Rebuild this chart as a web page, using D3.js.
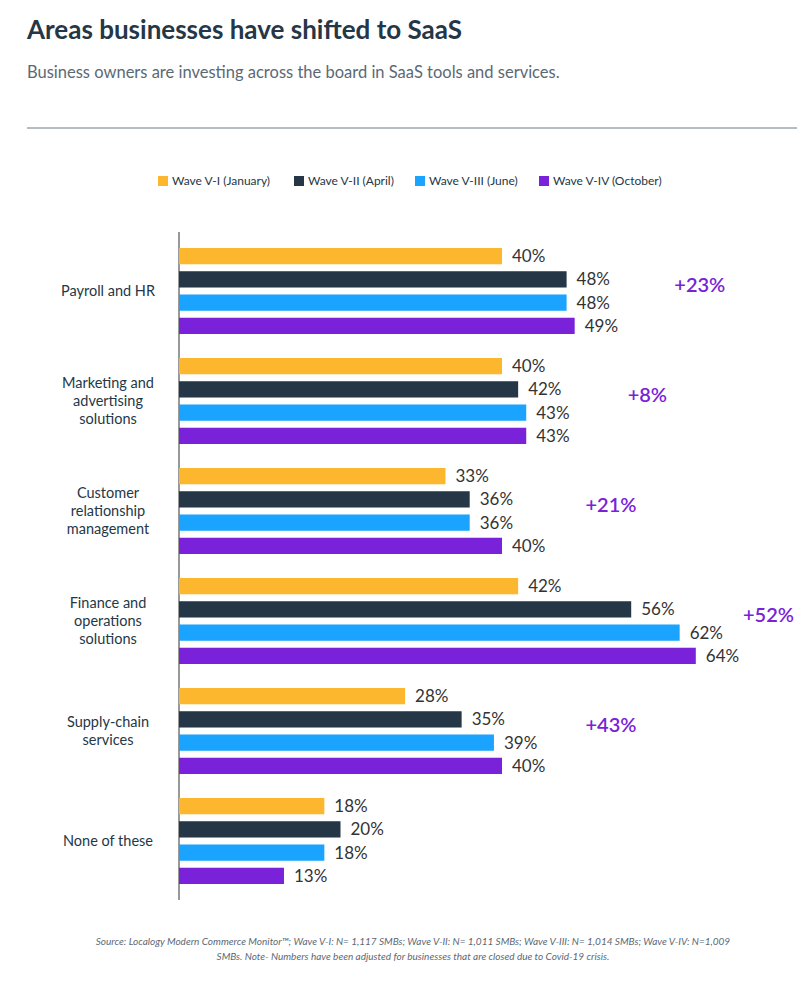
<!DOCTYPE html>
<html><head><meta charset="utf-8">
<script src="https://cdn.jsdelivr.net/npm/d3@7"></script>
<style>body{margin:0;background:#fff;font-family:Lato,"Open Sans",sans-serif}</style>
</head><body><div class="chart"></div>
<script>
const categories = [["Payroll and HR"], ["Marketing and", "advertising", "solutions"], ["Customer", "relationship", "management"], ["Finance and", "operations", "solutions"], ["Supply-chain", "services"], ["None of these"]];
const waves = ["Wave V-I (January)", "Wave V-II (April)", "Wave V-III (June)", "Wave V-IV (October)"];
const waveI = [40, 40, 33, 42, 28, 18];
const waveII = [48, 42, 36, 56, 35, 20];
const waveIII = [48, 43, 36, 62, 39, 18];
const waveIV = [49, 43, 40, 64, 40, 13];
const deltas = ["+23%", "+8%", "+21%", "+52%", "+43%", null];
const deltaAt = [64.5, 58, 53.5, 73, 53.5, null];
const colors = ["#FDB72F", "#253746", "#1AA3FF", "#7A22D9"];

const series = [waveI, waveII, waveIII, waveIV];
const W = 807, H = 981;
const svg = d3.select(".chart").append("svg").attr("width", W).attr("height", H);

svg.append("text").attr("x", 27).attr("y", 39).attr("font-size", 26).attr("font-weight", 700)
    .attr("fill", "#253746").text("Areas businesses have shifted to SaaS");
svg.append("text").attr("x", 27).attr("y", 78).attr("font-size", 16.5).attr("fill", "#5b6975")
    .text("Business owners are investing across the board in SaaS tools and services.");
svg.append("line").attr("x1", 27).attr("x2", 797).attr("y1", 128).attr("y2", 128).attr("stroke", "#6d7d8a");

// legend
const legX = [158, 294, 415, 539];
waves.forEach((w, i) => {
    svg.append("rect").attr("x", legX[i]).attr("y", 176).attr("width", 10).attr("height", 10).attr("fill", colors[i]);
    svg.append("text").attr("x", legX[i] + 14).attr("y", 185).attr("font-size", 12).attr("fill", "#253746").text(w);
});

const x = d3.scaleLinear().domain([0, 100]).range([179, 179 + 807.5]);
const y = d3.scaleBand().domain(d3.range(6)).range([238, 898]);
const inner = d3.scaleBand().domain(d3.range(4)).range([10, 96]).paddingInner(0.3);

svg.append("line").attr("x1", 179).attr("x2", 179).attr("y1", 232).attr("y2", 900).attr("stroke", "#333");

categories.forEach((c, g) => {
    series.forEach((s, i) => {
        const by = y(g) + inner(i);
        svg.append("rect").attr("x", x(0)).attr("y", by).attr("width", x(s[g]) - x(0))
            .attr("height", inner.bandwidth()).attr("fill", colors[i]);
        svg.append("text").attr("x", x(s[g]) + 10).attr("y", by + inner.bandwidth() / 2 + 6)
            .attr("font-size", 17).attr("fill", "#333").text(s[g] + "%");
    });
    const cy = y(g) + 53;
    const t = svg.append("text").attr("text-anchor", "middle").attr("font-size", 14.5).attr("fill", "#253746");
    c.forEach((line, k) => t.append("tspan").attr("x", 108)
        .attr("y", cy + (k - (c.length - 1) / 2) * 18 + 5).text(line));
    if (deltas[g]) {
        svg.append("text").attr("x", x(deltaAt[g])).attr("y", cy + 1).attr("text-anchor", "middle")
            .attr("font-size", 20).attr("font-weight", 600).attr("fill", "#7A22D9").text(deltas[g]);
    }
});

const src = svg.append("text").attr("text-anchor", "middle").attr("font-size", 10).attr("font-style", "italic").attr("fill", "#5b6975");
src.append("tspan").attr("x", 413).attr("y", 945).text("Source: Localogy Modern Commerce Monitor™;  Wave V-I: N= 1,117 SMBs; Wave V-II: N= 1,011 SMBs; Wave V-III: N= 1,014 SMBs; Wave V-IV: N=1,009");
src.append("tspan").attr("x", 413).attr("y", 960).text("SMBs. Note- Numbers have been adjusted for businesses that are closed due to Covid-19 crisis.");
</script></body></html>
